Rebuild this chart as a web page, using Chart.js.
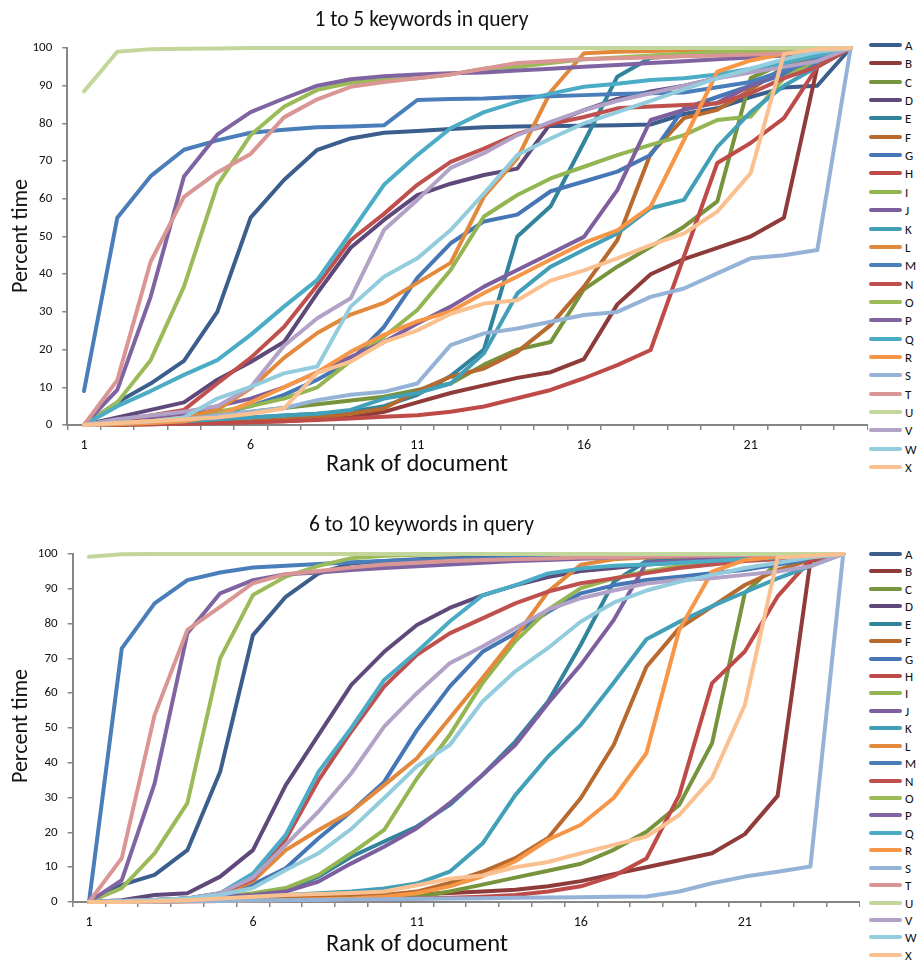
<!DOCTYPE html>
<html>
<head>
<meta charset="utf-8">
<script src="https://cdn.jsdelivr.net/npm/chart.js@4.4.1/dist/chart.umd.min.js"></script>
<style>
  html, body { margin: 0; background: #fff; }
  body { width: 918px; height: 962px; position: relative; overflow: hidden; font-family: Carlito, Lato, sans-serif; color: #111; }
  canvas { position: absolute; left: 0; }
  .txt { position: absolute; white-space: nowrap; transform: translate(-50%, -50%); line-height: 1; }
  .ytitle { transform: translate(-50%, -50%) rotate(-90deg); }
  .sw { position: absolute; height: 4px; border-radius: 2px; }
  .lb { position: absolute; font-size: 13px; line-height: 1; transform: translateY(-50%); }
</style>
</head>
<body>
<canvas id="top"></canvas>
<canvas id="bottom"></canvas>
<script>
// ---- data ----
const ranks = ['1','2','3','4','5','6','7','8','9','10','11','12','13','14','15','16','17','18','19','20','21','22','23','24'];
const seriesNames = ['A','B','C','D','E','F','G','H','I','J','K','L','M','N','O','P','Q','R','S','T','U','V','W','X'];
const seriesColors = ['#3b5e8c','#8e3b39','#77933c','#5f497a','#31849b','#b7692e','#4576b5','#be4b48','#93b552','#7d5fa0','#41a0b8','#e3893b',
                      '#4a7ebb','#c0504d','#9bbb59','#8064a2','#4bacc6','#f79646','#95b3d7','#d99694','#c3d69b','#b3a2c7','#93cddd','#fac090'];
const yTicks = [0,10,20,30,40,50,60,70,80,90,100];

// 1 to 5 keywords in query
const topA = [0,6,11,17,30,55,65,73,76,77.5,78,78.5,79,79.2,79.3,79.4,79.5,79.7,82.5,84,87,89.5,90,100];
const topB = [0,0,0.2,0.4,0.6,0.8,1,1.5,2,3.5,6,8.5,10.5,12.5,14,17.5,32,40,44,47,50,55,95,100];
const topC = [0,0.5,1,1.5,2.5,3.5,4.5,5.5,6.5,7.5,9.3,11,16,20,22,36,42,47.3,52.6,59.3,92,96,98,100];
const topD = [0,2,4,6,12,16.7,22,35,47,54.4,61,64,66.3,68,80,83.5,86.5,88.5,90,92,94,95.5,97,100];
const topE = [0,0.3,0.6,1,1.5,2,2.5,3,3.5,5,8,13,20,50,58,75,92.4,97.4,98,98.5,99,99.5,100,100];
const topF = [0,0.2,0.4,0.6,0.8,1,1.5,2,3,4.4,9,12.8,15,19.4,26.5,36.7,49,72,81.4,83.6,88.9,95,97,100];
const topG = [0,0.5,1,2,3,5,8,12,17,26,39,48.2,54,55.8,62,64.6,67.2,71.6,84,87,90,93,96,100];
const topH = [0,0.1,0.2,0.3,0.5,0.7,1,1.3,1.7,2.2,2.6,3.5,4.9,7.1,9.3,12.4,15.9,19.9,44.7,69.5,74.8,81.4,95,100];
const topI = [0,1,2,2.5,3.5,5,7,10,17,23.4,30.5,41.1,55.3,61,65.4,68.5,71.6,74.3,76.9,80.9,81.8,92,97,100];
const topJ = [0,1,2,3,5,7,10,14,18,22,26.9,31.4,36.7,41.1,45.5,49.9,62.3,80.9,83.6,85.5,90,94,97,100];
const topK = [0,0.3,0.6,1,1.5,2,2.5,3,4,7,8.5,11,19,34.9,42,46.5,50.8,57.5,59.7,73.8,83,90,95,100];
const topL = [0,0.5,1,2,4,9.7,17.8,24.4,29.3,32.4,37.7,43,60.6,70.7,88.4,98.6,99,99.2,99.4,99.5,99.6,99.8,99.9,100];
const topM = [9,55,66,73,75.5,77.5,78.3,79,79.2,79.5,86.2,86.5,86.6,87,87.2,87.5,87.8,88,88.2,89.6,91,94,97,100];
const topN = [0,1,2.5,4,11,17.8,26,37.1,49,56,63.7,69.8,73.3,77.2,79.8,81.7,84,84.5,84.9,85.3,88,92,95,100];
const topO = [0,6,17.2,36.7,63.6,76.9,84.4,88.9,90.8,91.5,92,93,94.5,95,96,97,97.5,98,98.5,99,99.3,99.5,99.7,100];
const topP = [0,9.3,34,65.9,77,83,86.6,90,91.7,92.5,93,93.3,93.5,94,94.5,95,95.5,96,96.5,97,97.5,98,98.5,100];
const topQ = [0,5,9,13.3,17.2,23.9,31.4,38.5,51,63.7,71.6,78.7,83,85.7,87.9,89.7,90.5,91.5,92,93,94.5,96,98,100];
const topR = [0,0.2,0.5,1,2.5,6,10,14,19.4,23.9,27.5,30.1,35,39.4,43.9,48.3,51.6,57.9,75.6,93.7,96.7,98.5,99.5,100];
const topS = [0,0.5,1,1.5,2.5,3.5,4.5,6.6,8,8.8,11,21.2,24.3,25.6,27.4,29.2,30,34,36.2,40.2,44.2,45,46.4,100];
const topT = [0,11.9,43.3,60.5,67,71.9,81.6,86.4,89.7,91,92,93,94.5,96,96.5,97,97.3,97.5,97.8,98,98.3,98.6,99,100];
const topU = [88.5,99,99.7,99.8,99.9,100,100,100,100,100,100,100,100,100,100,100,100,100,100,100,100,100,100,100];
const topV = [0,1.5,2.5,3.5,5,10,21,28.3,33.6,51.7,59.7,68.2,72.1,76.9,80.4,83.5,86,88,90,92,93.5,95,96.5,100];
const topW = [0,0.5,1,2,7,10.1,13.7,15.5,31.4,39.3,44.2,51.7,61.4,71.6,76,80,83,86,89,92,94.5,97,99,100];
const topX = [0,0.5,1,1.5,2,3,4.4,13.8,16.8,22,25.1,29.5,32.2,33.1,38.3,41,44.2,47.7,50.8,56.6,66.8,98.4,99.7,100];

// 6 to 10 keywords in query
const botA = [0,4.9,7.8,14.9,37.4,76.7,87.7,94.4,97.3,98,98.5,98.8,99,99.2,99.4,99.5,99.6,99.7,99.8,99.8,99.9,99.9,100,100];
const botB = [0,0,0.2,0.4,0.6,0.8,1,1.2,1.5,1.8,2.2,2.6,3,3.5,4.5,6,8,10,12,14,19.5,30.5,98,100];
const botC = [0,0.1,0.2,0.3,0.4,0.5,0.6,0.7,0.8,1,1.5,3,5,7,9,11,15,20.2,27.9,45.6,88.8,97.5,99,100];
const botD = [0,0.5,2,2.5,7.3,14.9,33.6,48,62.4,71.9,79.6,84.5,88.1,91,93.4,95.1,96,97,97.5,98,98.5,99,99.5,100];
const botE = [0,0,0.3,0.6,1,2,3.5,7.3,13,17.4,21.7,27.9,36.5,46.1,57.6,74,92,98,98.5,99,99.3,99.5,99.8,100];
const botF = [0,0.1,0.2,0.3,0.5,0.7,1,1.3,1.6,2,3,5.5,8.7,12.6,18.4,29.9,45.1,67.6,78.7,84.9,91.1,95.4,98.3,100];
const botG = [0,0.3,0.6,1,2,5,9.7,18.3,26,34.5,49.4,61.9,71.9,77.2,83.4,88.7,91,92.5,93.5,94.5,95.5,97,98.5,100];
const botH = [0,0,0.1,0.2,0.3,0.4,0.5,0.6,0.7,0.8,1,1.2,1.5,2,3,4.5,7.5,12.5,30.7,62.9,72,87.8,98.3,100];
const botI = [0,0.2,0.5,1,1.5,2.5,4,7.8,14,20.7,35.5,48,62.9,74.9,84,90.2,93,95,96.5,97.5,98.5,99,99.5,100];
const botJ = [0,0.2,0.5,1,1.5,2,3,5.9,11.1,15.9,21.2,28.4,36.5,45.1,57.1,68.2,81,97.5,98,98.5,99,99.3,99.6,100];
const botK = [0,0,0.2,0.5,1,1.5,2,2.5,3,3.9,5.3,8.7,16.8,30.7,41.8,50.9,63,75.5,80.5,85,89,93,96.5,100];
const botL = [0,0.2,0.5,1,2,6,14.9,20.7,26,33.6,41.3,52.8,64.4,76.2,89.2,96.9,98.5,99,99.3,99.5,99.7,99.8,99.9,100];
const botM = [0,72.9,85.8,92.5,94.7,96.1,96.6,97.1,97.6,98,98.3,98.5,98.7,98.9,99,99.2,99.3,99.5,99.6,99.7,99.8,99.9,100,100];
const botN = [0,0.3,0.6,1,2.5,6.5,18,35,49,61.9,71,77.2,81.5,85.8,89.2,91.6,93,94.5,96,97,98,98.5,99,100];
const botO = [0,4,14,28.4,70,88.2,93.5,96.6,98.8,99.5,99.8,99.9,100,100,100,100,100,100,100,100,100,100,100,100];
const botP = [0,6.3,34,77.2,88.7,92.5,94.2,94.7,95.4,96,96.5,97,97.5,98,98.3,98.6,99,99.2,99.4,99.6,99.7,99.8,99.9,100];
const botQ = [0,0.3,0.6,1,2.5,8.2,19.3,37.4,50,63.8,71.9,80.6,88.1,91,94.4,95.8,96.6,97,97.5,98,98.5,99,99.5,100];
const botR = [0,0,0.1,0.2,0.3,0.4,0.6,0.8,1,1.5,2.5,4.5,7.4,11.7,17.9,22.2,29.9,42.8,78.2,94.9,98.3,99.3,99.7,100];
const botS = [0,0,0.1,0.2,0.3,0.4,0.5,0.6,0.7,0.8,0.9,1,1.1,1.2,1.3,1.4,1.5,1.6,3,5.4,7.3,8.7,10.2,100];
const botT = [0,12.6,53.7,78.2,84.8,91.6,94.2,95.1,96.1,97,97.5,98,98.3,98.5,98.7,99,99,99.3,99.5,99.6,99.7,99.8,99.9,100];
const botU = [99.2,99.9,100,100,100,100,100,100,100,100,100,100,100,100,100,100,100,100,100,100,100,100,100,100];
const botV = [0,0.3,0.6,1,2.5,7,16.4,26,37,50.4,60,68.6,73.4,78.7,84,87.3,89.5,91.5,92.5,93,94,95,96.5,100];
const botW = [0,0.2,0.5,1,2,4,9.2,14,21,29.9,39,45.1,57.6,66.3,73,80.6,86,89.5,92,94,96,97.5,99,100];
const botX = [0,0,0.2,0.5,1,1.5,2,2.3,2.6,3,4.8,6.7,7.6,10,11.5,14,16.4,18.8,25,35.6,56.6,99,99.5,100];

const topSeries = [topA,topB,topC,topD,topE,topF,topG,topH,topI,topJ,topK,topL,topM,topN,topO,topP,topQ,topR,topS,topT,topU,topV,topW,topX];
const botSeries = [botA,botB,botC,botD,botE,botF,botG,botH,botI,botJ,botK,botL,botM,botN,botO,botP,botQ,botR,botS,botT,botU,botV,botW,botX];

// ---- layout of the two panels ----
const panels = [
  { id: 'top', series: topSeries, title: '1 to 5 keywords in query',
    canvasTop: 0, width: 868, height: 470, plotLeft: 67.3, plotRight: 867.3, plotTop: 48, plotBottom: 425,
    titleY: 20, yTitleY: 236, xTitleY: 463, legendTop: 45, legendStep: 18.35 },
  { id: 'bottom', series: botSeries, title: '6 to 10 keywords in query',
    canvasTop: 490, width: 860, height: 472, plotLeft: 72.6, plotRight: 859.6, plotTop: 554, plotBottom: 902,
    titleY: 525, yTitleY: 726, xTitleY: 943, legendTop: 554, legendStep: 17.43 }
];

const AXIS = '#868686';
const XH = 40;

function addText(text, x, y, size, cls) {
  const d = document.createElement('div');
  d.className = 'txt' + (cls ? ' ' + cls : '');
  d.style.left = x + 'px';
  d.style.top = y + 'px';
  d.style.fontSize = size + 'px';
  d.textContent = text;
  document.body.appendChild(d);
}

function addLegend(p) {
  seriesNames.forEach((name, i) => {
    const y = p.legendTop + i * p.legendStep;
    const sw = document.createElement('div');
    sw.className = 'sw';
    sw.style.left = '869px';
    sw.style.width = '33px';
    sw.style.top = (y - 2) + 'px';
    sw.style.background = seriesColors[i];
    document.body.appendChild(sw);
    const lb = document.createElement('div');
    lb.className = 'lb';
    lb.style.left = '905px';
    lb.style.top = y + 'px';
    lb.textContent = name;
    document.body.appendChild(lb);
  });
}

function makeChart(p) {
  const canvas = document.getElementById(p.id);
  canvas.style.top = p.canvasTop + 'px';
  canvas.width = p.width;
  canvas.height = p.height;
  canvas.style.width = p.width + 'px';
  canvas.style.height = p.height + 'px';

  const datasets = p.series.map((vals, i) => ({
    label: seriesNames[i],
    data: vals,
    borderColor: seriesColors[i],
    backgroundColor: seriesColors[i],
    borderWidth: 4,
    pointRadius: 0,
    tension: 0,
    fill: false,
    clip: false,
    borderJoinStyle: 'round',
    borderCapStyle: 'round',
    order: seriesNames.length - i   // later series drawn on top, like the original
  }));

  return new Chart(canvas.getContext('2d'), {
    type: 'line',
    data: { labels: ranks, datasets },
    options: {
      responsive: false,
      animation: false,
      events: [],
      layout: {
        autoPadding: false,
        padding: {
          left: 0,
          top: p.plotTop - p.canvasTop,
          right: p.width - p.plotRight,
          bottom: p.canvasTop + p.height - p.plotBottom - XH
        }
      },
      plugins: { legend: { display: false }, title: { display: false }, tooltip: { enabled: false } },
      scales: {
        x: {
          type: 'category',
          offset: true,
          afterFit: s => { s.height = XH; },
          grid: { offset: true, drawOnChartArea: false, drawTicks: true, tickLength: 5, color: AXIS, lineWidth: 1.5 },
          border: { display: true, color: AXIS, width: 2 },
          ticks: {
            autoSkip: false, maxRotation: 0, padding: 7, color: '#111',
            font: { family: 'Carlito, Lato, sans-serif', size: 14 },
            callback: (v, i) => (i % 5 === 0 ? ranks[i] : '')
          }
        },
        y: {
          min: 0, max: 100,
          afterFit: s => { s.width = p.plotLeft; },
          afterBuildTicks: s => { s.ticks = yTicks.map(v => ({ value: v })); },
          grid: { drawOnChartArea: false, drawTicks: true, tickLength: 5, color: AXIS, lineWidth: 1.5 },
          border: { display: true, color: AXIS, width: 2 },
          ticks: { padding: 10, color: '#111', font: { family: 'Carlito, Lato, sans-serif', size: 13 } }
        }
      }
    }
  });
}

panels.forEach(p => {
  makeChart(p);
  addText(p.title, 421.5, p.titleY, 21.5);
  addText('Percent time', 20, p.yTitleY, 22, 'ytitle');
  addText('Rank of document', 417, p.xTitleY, 24.5);
  addLegend(p);
});
</script>
</body>
</html>
